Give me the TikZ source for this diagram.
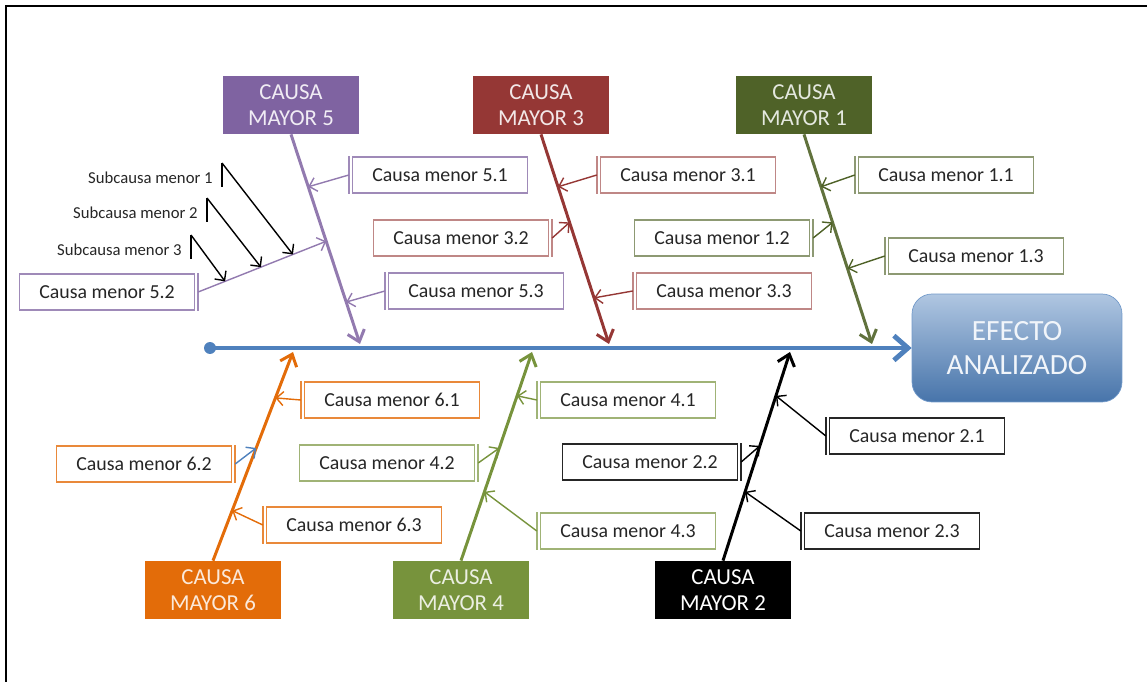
\documentclass[tikz,border=0pt]{standalone}
\usepackage{fontspec}
\setmainfont{Carlito}
\usetikzlibrary{arrows.meta, calc}
\definecolor{cpurple}{HTML}{7F63A1}
\definecolor{cred}{HTML}{953735}
\definecolor{colive}{HTML}{4F6228}
\definecolor{corange}{HTML}{E36C09}
\definecolor{cgreen}{HTML}{77933C}
\definecolor{cblue}{HTML}{4F81BD}
\tikzstyle{major} = [rectangle, minimum width=2.74cm, minimum height=1.16cm, align=center, inner sep=0pt, font=\fontsize{13}{14.5}\selectfont]
\tikzstyle{minor} = [rectangle, minimum width=3.5cm, minimum height=0.72cm, inner sep=0pt, fill=white, line width=0.8pt, text=black!85, font=\fontsize{11.3}{13}\selectfont]
\tikzstyle{effect} = [rectangle, rounded corners=0.4cm, minimum width=4.2cm, minimum height=2.16cm, align=center, top color=cblue!45!white, bottom color=cblue!90!black, draw=cblue!80!white, text=white!92!cblue, font=\fontsize{16.7}{19.8}\selectfont]
\tikzstyle{subtext} = [anchor=east, inner sep=0pt, text=black!85, font=\fontsize{9.5}{11}\selectfont]
\tikzstyle{bone} = [line width=1.7pt, -{Straight Barb[length=6pt,width=10pt]}]
\tikzstyle{arrow} = [line width=0.8pt, -{Straight Barb[length=4pt,width=8pt]}]
\tikzstyle{bar} = [line width=0.8pt]

\begin{document}
\begin{tikzpicture}[x=0.02cm, y=-0.02cm]
\useasboundingbox (0,0) rectangle (1147,682);
\draw[line width=1.7pt] (6,682) -- (6,6) -- (1147,6);

% spine
\node (efecto) [effect] at (1017,348) {EFECTO\\ANALIZADO};
\node (cola) [circle, fill=cblue, inner sep=0pt, minimum size=0.24cm] at (210,348) {};
\draw[line width=2.8pt, cblue, -{Straight Barb[length=8pt,width=14pt]}] (cola.center) -- (efecto.west);

\coordinate (t5) at (360,344);
\coordinate (t3) at (609,344);
\coordinate (t1) at (872,344);
\coordinate (t6) at (293,352);
\coordinate (t4) at (532,352);
\coordinate (t2) at (790,352);

% causas mayores
\node (m5) [major, fill=cpurple, text=white!88!cpurple] at (291,105) {CAUSA\\MAYOR 5};
\node (m3) [major, fill=cred, text=white!88!cred] at (541,105) {CAUSA\\MAYOR 3};
\node (m1) [major, fill=colive, text=white!85!colive] at (804,105) {CAUSA\\MAYOR 1};
\node (m6) [major, fill=corange, text=white!85!corange] at (213,590) {CAUSA\\MAYOR 6};
\node (m4) [major, fill=cgreen, text=white!85!cgreen] at (461,590) {CAUSA\\MAYOR 4};
\node (m2) [major, fill=black, text=white] at (723,590) {CAUSA\\MAYOR 2};

\draw[bone, cpurple!85!white] (m5.south) -- (t5);
\draw[bone, cred] (m3.south) -- (t3);
\draw[bone, colive!90!white] (m1.south) -- (t1);
\draw[bone, corange] (m6.north) -- (t6);
\draw[bone, cgreen] (m4.north) -- (t4);
\draw[bone, black] (m2.north) -- (t2);

% puntos sobre las espinas
\coordinate (p51) at ($(m5.south)!0.25!(t5)$);
\coordinate (p52) at ($(m5.south)!0.51!(t5)$);
\coordinate (p53) at ($(m5.south)!0.80!(t5)$);
\coordinate (p31) at ($(m3.south)!0.25!(t3)$);
\coordinate (p32) at ($(m3.south)!0.42!(t3)$);
\coordinate (p33) at ($(m3.south)!0.78!(t3)$);
\coordinate (p11) at ($(m1.south)!0.25!(t1)$);
\coordinate (p12) at ($(m1.south)!0.42!(t1)$);
\coordinate (p13) at ($(m1.south)!0.64!(t1)$);
\coordinate (p61) at ($(m6.north)!0.78!(t6)$);
\coordinate (p62) at ($(m6.north)!0.54!(t6)$);
\coordinate (p63) at ($(m6.north)!0.24!(t6)$);
\coordinate (p41) at ($(m4.north)!0.79!(t4)$);
\coordinate (p42) at ($(m4.north)!0.54!(t4)$);
\coordinate (p43) at ($(m4.north)!0.33!(t4)$);
\coordinate (p21) at ($(m2.north)!0.79!(t2)$);
\coordinate (p22) at ($(m2.north)!0.55!(t2)$);
\coordinate (p23) at ($(m2.north)!0.33!(t2)$);

% causas menores (mayor 5)
\node (b51) [minor, draw=cpurple!75] at (440,175) {Causa menor 5.1};
\node (b52) [minor, draw=cpurple!75] at (107,292) {Causa menor 5.2};
\node (b53) [minor, draw=cpurple!75] at (476,291) {Causa menor 5.3};
\draw[bar, cpurple!75] ([xshift=-0.06cm]b51.north west) -- ([xshift=-0.06cm]b51.south west);
\draw[bar, cpurple!75] ([xshift=0.06cm]b52.north east) -- ([xshift=0.06cm]b52.south east);
\draw[bar, cpurple!75] ([xshift=-0.06cm]b53.north west) -- ([xshift=-0.06cm]b53.south west);
\coordinate (a52) at ([xshift=0.06cm]b52.east);
\draw[arrow, cpurple!85] ([xshift=-0.06cm]b51.west) -- (p51);
\draw[arrow, cpurple!85] (a52) -- (p52);
\draw[arrow, cpurple!85] ([xshift=-0.06cm]b53.west) -- (p53);

% subcausas
\node (s1) [subtext] at (213,178) {Subcausa menor 1};
\node (s2) [subtext] at (198,213) {Subcausa menor 2};
\node (s3) [subtext] at (182,250) {Subcausa menor 3};
\coordinate (r1) at ($(a52)!0.74!(p52)$);
\coordinate (r2) at ($(a52)!0.49!(p52)$);
\coordinate (r3) at ($(a52)!0.21!(p52)$);
\draw[bar] ([shift={(9,-15)}]s1.east) -- ([shift={(9,9)}]s1.east);
\draw[bar] ([shift={(9,-15)}]s2.east) -- ([shift={(9,9)}]s2.east);
\draw[bar] ([shift={(9,-15)}]s3.east) -- ([shift={(9,9)}]s3.east);
\draw[arrow, black] ([shift={(9,-15)}]s1.east) -- (r1);
\draw[arrow, black] ([shift={(9,-15)}]s2.east) -- (r2);
\draw[arrow, black] ([shift={(9,-15)}]s3.east) -- (r3);

% causas menores (mayor 3)
\node (b31) [minor, draw=cred!60] at (688,175) {Causa menor 3.1};
\node (b32) [minor, draw=cred!60] at (461,238) {Causa menor 3.2};
\node (b33) [minor, draw=cred!60] at (724,291) {Causa menor 3.3};
\draw[bar, cred!60] ([xshift=-0.06cm]b31.north west) -- ([xshift=-0.06cm]b31.south west);
\draw[bar, cred!60] ([xshift=0.06cm]b32.north east) -- ([xshift=0.06cm]b32.south east);
\draw[bar, cred!60] ([xshift=-0.06cm]b33.north west) -- ([xshift=-0.06cm]b33.south west);
\draw[arrow, cred] ([xshift=-0.06cm]b31.west) -- (p31);
\draw[arrow, cred] ([xshift=0.06cm]b32.east) -- (p32);
\draw[arrow, cred] ([xshift=-0.06cm]b33.west) -- (p33);

% causas menores (mayor 1)
\node (b11) [minor, draw=colive!65] at (946,175) {Causa menor 1.1};
\node (b12) [minor, draw=colive!65] at (722,238) {Causa menor 1.2};
\node (b13) [minor, draw=colive!65] at (976,256) {Causa menor 1.3};
\draw[bar, colive!65] ([xshift=-0.06cm]b11.north west) -- ([xshift=-0.06cm]b11.south west);
\draw[bar, colive!65] ([xshift=0.06cm]b12.north east) -- ([xshift=0.06cm]b12.south east);
\draw[bar, colive!65] ([xshift=-0.06cm]b13.north west) -- ([xshift=-0.06cm]b13.south west);
\draw[arrow, colive] ([xshift=-0.06cm]b11.west) -- (p11);
\draw[arrow, colive] ([xshift=0.06cm]b12.east) -- (p12);
\draw[arrow, colive] ([xshift=-0.06cm]b13.west) -- (p13);

% causas menores (mayor 6)
\node (b61) [minor, draw=corange!80] at (392,400) {Causa menor 6.1};
\node (b62) [minor, draw=corange!80] at (144,464) {Causa menor 6.2};
\node (b63) [minor, draw=corange!80] at (354,525) {Causa menor 6.3};
\draw[bar, corange!80] ([xshift=-0.06cm]b61.north west) -- ([xshift=-0.06cm]b61.south west);
\draw[bar, corange!80] ([xshift=0.06cm]b62.north east) -- ([xshift=0.06cm]b62.south east);
\draw[bar, corange!80] ([xshift=-0.06cm]b63.north west) -- ([xshift=-0.06cm]b63.south west);
\draw[arrow, corange] ([xshift=-0.06cm]b61.west) -- (p61);
\draw[arrow, cblue] ([xshift=0.06cm]b62.east) -- (p62);
\draw[arrow, corange] ([xshift=-0.06cm]b63.west) -- (p63);

% causas menores (mayor 4)
\node (b41) [minor, draw=cgreen!70] at (628,400) {Causa menor 4.1};
\node (b42) [minor, draw=cgreen!70] at (387,463) {Causa menor 4.2};
\node (b43) [minor, draw=cgreen!70] at (628,531) {Causa menor 4.3};
\draw[bar, cgreen!70] ([xshift=-0.06cm]b41.north west) -- ([xshift=-0.06cm]b41.south west);
\draw[bar, cgreen!70] ([xshift=0.06cm]b42.north east) -- ([xshift=0.06cm]b42.south east);
\draw[bar, cgreen!70] ([xshift=-0.06cm]b43.north west) -- ([xshift=-0.06cm]b43.south west);
\draw[arrow, cgreen] ([xshift=-0.06cm]b41.west) -- (p41);
\draw[arrow, cgreen] ([xshift=0.06cm]b42.east) -- (p42);
\draw[arrow, cgreen] ([xshift=-0.06cm]b43.west) -- (p43);

% causas menores (mayor 2)
\node (b21) [minor, draw=black!85] at (917,436) {Causa menor 2.1};
\node (b22) [minor, draw=black!85] at (650,462) {Causa menor 2.2};
\node (b23) [minor, draw=black!85] at (892,531) {Causa menor 2.3};
\draw[bar, black!85] ([xshift=-0.06cm]b21.north west) -- ([xshift=-0.06cm]b21.south west);
\draw[bar, black!85] ([xshift=0.06cm]b22.north east) -- ([xshift=0.06cm]b22.south east);
\draw[bar, black!85] ([xshift=-0.06cm]b23.north west) -- ([xshift=-0.06cm]b23.south west);
\draw[arrow, black] ([xshift=-0.06cm]b21.west) -- (p21);
\draw[arrow, black] ([xshift=0.06cm]b22.east) -- (p22);
\draw[arrow, black] ([xshift=-0.06cm]b23.west) -- (p23);

\end{tikzpicture}
\end{document}
